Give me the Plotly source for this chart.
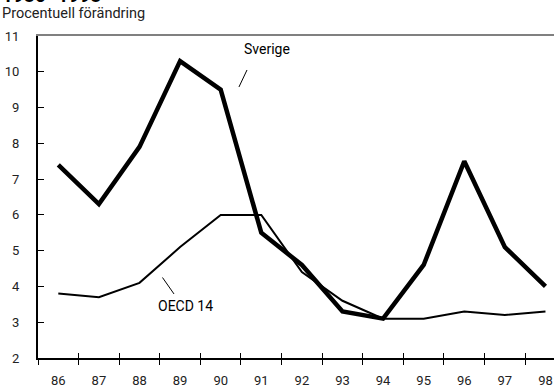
import plotly.graph_objects as go

# Årlig procentuell förändring, 1986-1998
years = ["86", "87", "88", "89", "90", "91", "92", "93", "94", "95", "96", "97", "98"]
sverige = [7.4, 6.3, 7.9, 10.3, 9.5, 5.5, 4.6, 3.3, 3.1, 4.6, 7.5, 5.1, 4.0]
oecd14 = [3.8, 3.7, 4.1, 5.1, 6.0, 6.0, 4.4, 3.6, 3.1, 3.1, 3.3, 3.2, 3.3]
y_ticks = list(range(2, 12))

xpos = list(range(len(years)))
bounds = [i - 0.5 for i in range(len(years) + 1)]
font = "Roboto, Liberation Sans, Arial, sans-serif"

fig = go.Figure()
fig.add_trace(go.Scatter(x=xpos, y=oecd14, mode="lines", name="OECD 14",
                         line=dict(color="black", width=2)))
fig.add_trace(go.Scatter(x=xpos, y=sverige, mode="lines", name="Sverige",
                         line=dict(color="black", width=4.5)))

xrange = [-0.5, 12.21]
fig.update_layout(
    width=554, height=389,
    margin=dict(l=38, r=0, t=36, b=31),
    paper_bgcolor="white", plot_bgcolor="white",
    showlegend=False,
    font=dict(family=font, size=13, color="#222"),
    xaxis=dict(
        range=xrange, tickmode="array", tickvals=xpos, ticktext=years,
        ticks="", showgrid=False, zeroline=False,
        showline=True, linecolor="black", linewidth=2,
        ticklabelstandoff=9,
        minor=dict(tickmode="array", tickvals=bounds, ticks="outside",
                   ticklen=5, tickwidth=1, tickcolor="black", showgrid=False),
    ),
    # second bottom axis: upper half of the crossing x ticks
    xaxis2=dict(
        overlaying="x", matches="x", side="bottom", anchor="y",
        tickmode="array", tickvals=bounds, ticks="inside", ticklen=5,
        tickwidth=1, tickcolor="black", showticklabels=False,
        showgrid=False, zeroline=False, showline=False,
    ),
    # grey frame line along the top of the plot
    xaxis3=dict(
        overlaying="x", matches="x", side="top", anchor="y",
        showline=True, linecolor="#808080", linewidth=2,
        ticks="", showticklabels=False, showgrid=False, zeroline=False,
    ),
    yaxis=dict(
        range=[2, 11], tickmode="array", tickvals=y_ticks,
        ticks="inside", ticklen=6, tickwidth=1, tickcolor="black",
        showgrid=False, zeroline=False,
        showline=True, linecolor="black", linewidth=2,
        ticklabelstandoff=14,
    ),
)

# invisible helper traces so the extra x axes get drawn
fig.add_trace(go.Scatter(x=[None], y=[None], xaxis="x2", showlegend=False, hoverinfo="skip"))
fig.add_trace(go.Scatter(x=[None], y=[None], xaxis="x3", showlegend=False, hoverinfo="skip"))

# series labels with short pointer strokes
fig.add_annotation(x=5.14, y=10.64, text="Sverige", showarrow=False,
                   font=dict(size=14, color="black"))
fig.add_shape(type="line", x0=4.45, y0=9.575, x1=4.648, y1=10.05,
              line=dict(color="black", width=1))
fig.add_annotation(x=3.13, y=3.45, text="OECD 14", showarrow=False,
                   font=dict(size=14, color="black"))
fig.add_shape(type="line", x0=2.566, y0=4.25, x1=2.85, y1=3.79,
              line=dict(color="black", width=1))

# heading and unit line
fig.add_annotation(xref="paper", yref="paper", x=-38 / 516, y=1 + 27 / 322,
                   xanchor="left", yanchor="bottom", text="<b>1986–1998</b>",
                   showarrow=False, font=dict(size=19, color="black"))
fig.add_annotation(xref="paper", yref="paper", x=-38 / 516, y=1 + 22 / 322,
                   xanchor="left", yanchor="middle", text="Procentuell förändring",
                   showarrow=False, font=dict(size=14.5, color="#222"))

fig.write_html("out.html")
